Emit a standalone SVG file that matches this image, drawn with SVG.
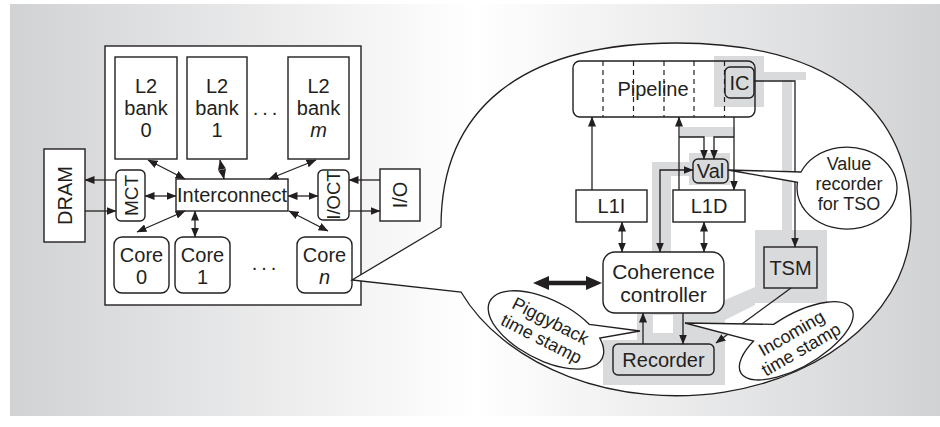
<svg xmlns="http://www.w3.org/2000/svg" width="940" height="427" viewBox="0 0 940 427">
<defs>
<linearGradient id="bg" x1="10" y1="0" x2="940" y2="0" gradientUnits="userSpaceOnUse">
<stop offset="0" stop-color="#d1d2d4"/><stop offset="0.5" stop-color="#ffffff"/><stop offset="1" stop-color="#d1d2d4"/>
</linearGradient>
<marker id="a" viewBox="0 0 10 8" refX="9.5" refY="4" markerWidth="10" markerHeight="8" markerUnits="userSpaceOnUse" orient="auto-start-reverse"><path d="M0,0 L10,4 L0,8 z" fill="#231f20"/></marker>
<marker id="b" viewBox="0 0 16 14" refX="10" refY="7" markerWidth="16" markerHeight="14" markerUnits="userSpaceOnUse" orient="auto-start-reverse"><path d="M0,0 L16,7 L0,14 z" fill="#231f20"/></marker>
<style>
.ln{stroke:#231f20;stroke-width:1.3;fill:none}
.box{fill:#fff;stroke:#231f20;stroke-width:1.4}
.gbox{fill:#d9dadc;stroke:#231f20;stroke-width:1.4}
.hl{fill:#d9dadc}
.call{fill:#fff;stroke:#231f20;stroke-width:1.3}
.t{font-family:"Liberation Sans",Arial,sans-serif;font-size:20px;fill:#231f20;text-anchor:middle}
.s{font-size:18px}
.i{font-style:italic}
.d{stroke:#231f20;stroke-width:1.2;stroke-dasharray:5 4}
</style>
</defs>
<rect width="940" height="427" fill="#fff"/>
<rect x="10" y="4" width="930" height="412" fill="url(#bg)"/>

<!-- left panel -->
<g id="chip"><rect class="box" x="105" y="46" width="256" height="259"/></g>
<g id="l2bank0"><rect class="box" x="115" y="57" width="62" height="102"/>
<text class="t" x="146" y="93">L2</text><text class="t" x="146" y="115">bank</text><text class="t" x="146" y="137">0</text></g>
<g id="l2bank1"><rect class="box" x="187" y="57" width="60" height="102"/>
<text class="t" x="217" y="93">L2</text><text class="t" x="217" y="115">bank</text><text class="t" x="217" y="137">1</text></g>
<g id="dots1"><text class="t" x="267" y="115" letter-spacing="4">...</text></g>
<g id="l2bankm"><rect class="box" x="288" y="57" width="61" height="102"/>
<text class="t" x="318.5" y="93">L2</text><text class="t" x="318.5" y="115">bank</text><text class="t i" x="318.5" y="137">m</text></g>
<g id="dram"><rect class="box" x="44" y="149" width="41" height="93"/>
<text class="t" transform="translate(64.5,195.5) rotate(-90)" y="7">DRAM</text></g>
<g id="mct"><rect class="box" x="116" y="170" width="29" height="51" rx="5"/>
<text class="t" style="font-size:19px" transform="translate(130.5,195.5) rotate(-90)" y="7">MCT</text></g>
<g id="interconnect"><rect class="box" x="176" y="179" width="112" height="32"/>
<text class="t" x="232" y="202">Interconnect</text></g>
<g id="ioct"><rect class="box" x="318" y="170" width="31" height="50" rx="5"/>
<text class="t" style="font-size:18.5px" transform="translate(333.5,195) rotate(-90)" y="6.5">I/OCT</text></g>
<g id="io"><rect class="box" x="380" y="169" width="40" height="52"/>
<text class="t" transform="translate(400,195) rotate(-90)" y="7">I/O</text></g>
<g id="core0"><rect class="box" x="114" y="237" width="55" height="56" rx="8"/>
<text class="t" x="141.5" y="262">Core</text><text class="t" x="141.5" y="284">0</text></g>
<g id="core1"><rect class="box" x="175" y="237" width="55" height="56" rx="8"/>
<text class="t" x="202.5" y="262">Core</text><text class="t" x="202.5" y="284">1</text></g>
<g id="dots2"><text class="t" x="266" y="270" letter-spacing="4">...</text></g>
<g id="coren"><rect class="box" x="297" y="237" width="55" height="56" rx="8"/>
<text class="t" x="324.5" y="262">Core</text><text class="t i" x="324.5" y="284">n</text></g>

<!-- zoom bubble -->
<g id="bubble"><path class="call" d="M352,280 L441,227 C441,110 520,43 676,43 C832,43 911,110 911,222 A235,174 0 0 1 461,292 Z"/></g>

<!-- highlights -->
<g id="highlight">
<rect x="573" y="61" width="182" height="56" rx="7" fill="#fff"/>
<rect class="hl" x="714" y="56" width="50" height="51"/>
<rect class="hl" x="764" y="72" width="42" height="8"/>
<rect class="hl" x="782" y="72" width="10" height="160"/>
<rect class="hl" x="755" y="230" width="72" height="73"/>
<polygon class="hl" points="755,287 755,305 695,335 695,313"/>
<rect class="hl" x="637" y="313" width="88" height="31"/>
<rect x="653" y="315" width="20" height="18" fill="#fff"/>
<rect class="hl" x="603" y="340" width="122" height="45"/>
<rect class="hl" x="689" y="153" width="41" height="32"/>
<rect class="hl" x="680" y="127" width="55" height="10"/>
<rect class="hl" x="652" y="162" width="37" height="14"/>
<rect class="hl" x="652" y="162" width="19" height="90"/>
</g>

<g id="pipeline">
<line class="d" x1="603" y1="61" x2="603" y2="117"/>
<line class="d" x1="633.5" y1="61" x2="633.5" y2="117"/>
<line class="d" x1="664" y1="61" x2="664" y2="117"/>
<line class="d" x1="694" y1="61" x2="694" y2="117"/>
<line class="d" x1="724.5" y1="61" x2="724.5" y2="117"/>
<rect x="573" y="61" width="182" height="56" rx="7" fill="none" stroke="#231f20" stroke-width="1.4"/>
<text class="t" x="653" y="96">Pipeline</text></g>
<g id="ic"><rect class="gbox" x="725" y="67" width="29" height="31" rx="5"/><text class="t" x="739.5" y="90">IC</text></g>
<g id="val"><rect class="gbox" x="693" y="159" width="35" height="24" rx="5"/><text class="t" x="710.5" y="178">Val</text></g>
<g id="l1i"><rect class="box" x="576" y="190" width="71" height="32"/><text class="t" x="611.5" y="213">L1I</text></g>
<g id="l1d"><rect class="box" x="673" y="190" width="72" height="32"/><text class="t" x="709" y="213">L1D</text></g>
<g id="coherence"><rect class="box" x="603" y="252" width="121" height="61" rx="12"/>
<text class="t" style="font-size:21px" x="663.5" y="279">Coherence</text><text class="t" style="font-size:21px" x="663.5" y="302">controller</text></g>
<g id="tsm"><rect class="gbox" x="764" y="247" width="53" height="41"/><text class="t" x="790.5" y="275">TSM</text></g>
<g id="recorder"><rect class="gbox" x="613" y="344" width="101" height="31" rx="5"/><text class="t" x="663.5" y="367">Recorder</text></g>

<!-- connectors -->
<g id="connectors">
<path class="ln" d="M116,180 H85" marker-end="url(#a)"/>
<path class="ln" d="M85,211 H116" marker-end="url(#a)"/>
<path class="ln" d="M145,196 H176" marker-start="url(#a)" marker-end="url(#a)"/>
<path class="ln" d="M288,196 H318" marker-start="url(#a)" marker-end="url(#a)"/>
<path class="ln" d="M380,180 H349" marker-end="url(#a)"/>
<path class="ln" d="M349,211 H380" marker-end="url(#a)"/>
<path class="ln" d="M148,160 L185,179" marker-start="url(#a)" marker-end="url(#a)"/>
<path class="ln" d="M220,160 L224,179" marker-start="url(#a)" marker-end="url(#a)"/>
<path class="ln" d="M316,160 L269,179" marker-start="url(#a)" marker-end="url(#a)"/>
<path class="ln" d="M185,211 L137,232" marker-start="url(#a)" marker-end="url(#a)"/>
<path class="ln" d="M195,211 V237" marker-start="url(#a)" marker-end="url(#a)"/>
<path class="ln" d="M289,211 L328,231" marker-start="url(#a)" marker-end="url(#a)"/>

<path class="ln" d="M592,190 V117" marker-end="url(#a)"/>
<path class="ln" d="M679,190 V117" marker-end="url(#a)"/>
<path class="ln" d="M679,137 H704 V159" marker-end="url(#a)"/>
<path class="ln" d="M734,117 V190" marker-end="url(#a)"/>
<path class="ln" d="M734,137 H714 V159" marker-end="url(#a)"/>
<path class="ln" d="M660,252 V170 H693" marker-start="url(#a)" marker-end="url(#a)"/>
<path class="ln" d="M622,222 V252" marker-start="url(#a)" marker-end="url(#a)"/>
<path class="ln" d="M704,222 V252" marker-start="url(#a)" marker-end="url(#a)"/>
<path class="ln" d="M754,81 H795 V247" marker-end="url(#a)"/>
<path class="ln" d="M791,288 L716,343" marker-end="url(#a)"/>
<path class="ln" d="M683,313 V344" marker-end="url(#a)"/>
<path class="ln" d="M643,344 V313" marker-end="url(#a)"/>
<path d="M539,283 H596" stroke="#231f20" stroke-width="4.5" fill="none" marker-start="url(#b)" marker-end="url(#b)"/>
</g>

<!-- callouts -->
<g id="value-recorder"><path class="call" d="M801,172 A50,41 0 1 1 797.5,182.3 L728,170 Z"/>
<text class="t s" x="849" y="170">Value</text><text class="t s" x="849" y="190">recorder</text><text class="t s" x="849" y="210">for TSO</text></g>
<g id="piggyback"><path class="call" d="M589.4,324.5 A63,30 27 1 0 599.8,338.1 L640,331 Z"/>
<g transform="translate(546,330) rotate(27)"><text class="t s" y="-4">Piggyback</text><text class="t s" y="16">time stamp</text></g></g>
<g id="incoming"><path class="call" d="M773.6,324.4 A64,26 -30 1 1 753.6,341 L685,323 Z"/>
<g transform="translate(796,341) rotate(-30)"><text class="t s" y="-3">Incoming</text><text class="t s" y="16">time stamp</text></g></g>
</svg>
